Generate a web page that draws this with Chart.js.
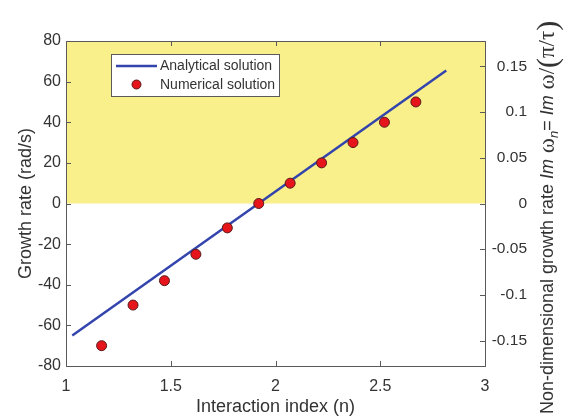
<!DOCTYPE html>
<html lang="en">
<head>
    <meta charset="UTF-8">
    <script src="https://cdn.jsdelivr.net/npm/chart.js"></script>
    <title>Growth rate vs interaction index</title>
    <style>
        body {
          margin: 0;
          background: #fff;
        }
        #wrap {
            width: 564px;
            height: 420px;
        }
    </style>
</head>
<body>
    <div id="wrap"><canvas id="growthChart" width="564" height="420"></canvas></div>

    <script>
        // Datos
        const numN = [1.17, 1.32, 1.47, 1.62, 1.77, 1.92, 2.07, 2.22, 2.37, 2.52, 2.67];
        const numRate = [-70, -50, -38, -25, -12, 0, 10, 20, 30, 40, 50];
        const lineN = [1.03, 2.815];
        const lineRate = [-65, 65.5];

        const xTicks = [1, 1.5, 2, 2.5, 3];
        const yTicks = [-80, -60, -40, -20, 0, 20, 40, 60, 80];
        const y2Ticks = [-0.15, -0.1, -0.05, 0, 0.05, 0.1, 0.15];
        const rateScale = 450; // rad/s por unidad adimensional

        const labelNum = 'Numerical solution';
        const labelAna = 'Analytical solution';

        const axisColor = '#5a5a5a';
        const textColor = '#333';
        const yellow = '#f9f08c';
        const blue = '#3444ad';
        const red = '#e5151b';
        const sans = '"Liberation Sans", Arial, sans-serif';
        const serif = '"Liberation Serif", "DejaVu Serif", serif';

        function fixTicks(list) {
            return function(scale) {
                scale.ticks = list.map(v => ({ value: v }));
            };
        }
        const plainLabel = v => String(v);

        // Fondo amarillo, caja, ticks hacia dentro, leyenda y título derecho
        const decor = {
            id: 'decor',
            beforeDatasetsDraw(chart) {
                const { ctx, chartArea: a, scales } = chart;
                const y0 = scales.y.getPixelForValue(0);
                ctx.save();
                ctx.fillStyle = yellow;
                ctx.fillRect(a.left, a.top, a.right - a.left, y0 - a.top);
                ctx.restore();
            },
            afterDraw(chart) {
                const { ctx, chartArea: a, scales } = chart;
                ctx.save();
                ctx.strokeStyle = axisColor;
                ctx.lineWidth = 1;
                ctx.strokeRect(a.left + 0.5, a.top + 0.5, a.right - a.left, a.bottom - a.top);
                const tl = 5;
                ctx.beginPath();
                xTicks.forEach(v => {
                    const px = Math.round(scales.x.getPixelForValue(v)) + 0.5;
                    ctx.moveTo(px, a.bottom); ctx.lineTo(px, a.bottom - tl);
                    ctx.moveTo(px, a.top); ctx.lineTo(px, a.top + tl);
                });
                yTicks.forEach(v => {
                    const py = Math.round(scales.y.getPixelForValue(v)) + 0.5;
                    ctx.moveTo(a.left, py); ctx.lineTo(a.left + tl, py);
                });
                y2Ticks.forEach(v => {
                    const py = Math.round(scales.y2.getPixelForValue(v)) + 0.5;
                    ctx.moveTo(a.right, py); ctx.lineTo(a.right - tl, py);
                });
                ctx.stroke();

                // Leyenda
                const lx = 111, ly = 54, lw = 168, lh = 42;
                ctx.fillStyle = '#fff';
                ctx.fillRect(lx, ly, lw, lh);
                ctx.strokeStyle = axisColor;
                ctx.strokeRect(lx + 0.5, ly + 0.5, lw, lh);
                ctx.strokeStyle = blue;
                ctx.lineWidth = 2.5;
                ctx.beginPath();
                ctx.moveTo(116, 66); ctx.lineTo(157, 66);
                ctx.stroke();
                ctx.fillStyle = red;
                ctx.strokeStyle = '#5a1a1a';
                ctx.lineWidth = 1;
                ctx.beginPath();
                ctx.arc(136.5, 84.5, 4.5, 0, Math.PI * 2);
                ctx.fill(); ctx.stroke();
                ctx.fillStyle = textColor;
                ctx.font = '14px ' + sans;
                ctx.textBaseline = 'middle';
                ctx.textAlign = 'left';
                ctx.fillText(labelAna, 160, 66);
                ctx.fillText(labelNum, 160, 85);

                // Título del eje derecho (texto con partes en cursiva)
                ctx.translate(548, 414);
                ctx.rotate(-Math.PI / 2);
                const parts = [
                    { t: 'Non-dimensional growth rate ', f: '18px ' + sans, dy: 0 },
                    { t: 'Im', f: 'italic 18px ' + sans, dy: 0 },
                    { t: ' ω', f: '23px ' + serif, dy: 0 },
                    { t: 'n', f: 'italic 13px ' + sans, dy: 6 },
                    { t: '= ', f: '18px ' + sans, dy: 0 },
                    { t: 'Im', f: 'italic 18px ' + sans, dy: 0 },
                    { t: ' ω/', f: '23px ' + serif, dy: 0 },
                    { t: '(', f: '30px ' + serif, dy: 1 },
                    { t: 'π/τ', f: '23px ' + serif, dy: 0 },
                    { t: ')', f: '30px ' + serif, dy: 1 }
                ];
                let cx = 0;
                ctx.fillStyle = textColor;
                parts.forEach(p => {
                    ctx.font = p.f;
                    ctx.fillText(p.t, cx, p.dy);
                    cx += ctx.measureText(p.t).width;
                });
                ctx.restore();
            }
        };

        const ctx = document.getElementById('growthChart');
        new Chart(ctx, {
            type: 'scatter',
            data: {
                datasets: [{
                    label: labelNum,
                    data: numN.map((n, i) => ({ x: n, y: numRate[i] })),
                    backgroundColor: red,
                    borderColor: '#5a1a1a',
                    borderWidth: 1,
                    pointRadius: 5,
                    order: 0
                }, {
                    label: labelAna,
                    data: lineN.map((n, i) => ({ x: n, y: lineRate[i] })),
                    showLine: true,
                    borderColor: blue,
                    borderWidth: 2.5,
                    pointRadius: 0,
                    order: 1
                }]
            },
            options: {
                responsive: false,
                animation: false,
                layout: { padding: { top: 41, right: 37, left: 0, bottom: 0 } },
                plugins: {
                    legend: { display: false },
                    tooltip: { enabled: false }
                },
                scales: {
                    x: {
                        type: 'linear',
                        min: 1, max: 3,
                        afterBuildTicks: fixTicks(xTicks),
                        afterFit(scale) { scale.height = 54; },
                        grid: { display: false, drawTicks: false },
                        border: { display: false },
                        ticks: {
                            padding: 11,
                            color: textColor,
                            callback: plainLabel,
                            font: { family: sans, size: 16 }
                        },
                        title: {
                            display: true,
                            text: 'Interaction index (n)',
                            color: textColor,
                            padding: { top: 0, bottom: 2 },
                            font: { family: sans, size: 18 }
                        }
                    },
                    y: {
                        position: 'left',
                        min: -80, max: 80,
                        afterBuildTicks: fixTicks(yTicks),
                        afterFit(scale) { scale.width = 66; },
                        grid: { display: false, drawTicks: false },
                        border: { display: false },
                        ticks: {
                            padding: 5,
                            color: textColor,
                            callback: plainLabel,
                            font: { family: sans, size: 16 }
                        },
                        title: {
                            display: true,
                            text: 'Growth rate (rad/s)',
                            color: textColor,
                            padding: { top: 15, bottom: 0 },
                            font: { family: sans, size: 18 }
                        }
                    },
                    y2: {
                        position: 'right',
                        min: -80 / rateScale, max: 80 / rateScale,
                        afterBuildTicks: fixTicks(y2Ticks),
                        afterFit(scale) { scale.width = 42; },
                        grid: { display: false, drawTicks: false },
                        border: { display: false },
                        ticks: {
                            crossAlign: 'far',
                            color: textColor,
                            callback: plainLabel,
                            font: { family: sans, size: 15.5 }
                        }
                    }
                }
            },
            plugins: [decor]
        });
    </script>
</body>
</html>
